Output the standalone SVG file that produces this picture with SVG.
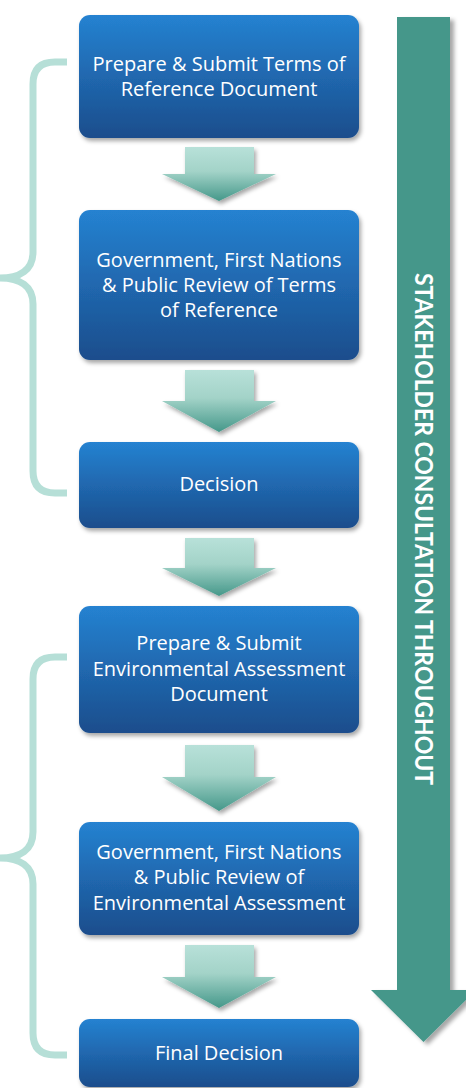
<svg xmlns="http://www.w3.org/2000/svg" width="466" height="1088" viewBox="0 0 466 1088">
<defs>
<linearGradient id="boxGrad" x1="0" y1="0" x2="0" y2="1">
<stop offset="0" stop-color="#2582D1"/>
<stop offset="1" stop-color="#1B4D8C"/>
</linearGradient>
<linearGradient id="arrGrad" x1="0" y1="0" x2="0" y2="1">
<stop offset="0" stop-color="#B8E1D9"/>
<stop offset="0.45" stop-color="#A3D3C8"/>
<stop offset="1" stop-color="#45988A"/>
</linearGradient>
<filter id="shadow" x="-10%" y="-10%" width="130%" height="130%">
<feDropShadow dx="2" dy="3" stdDeviation="2" flood-color="#000" flood-opacity="0.35"/>
</filter>
<filter id="shadowBig" x="-20%" y="-5%" width="150%" height="110%">
<feDropShadow dx="4" dy="3" stdDeviation="2" flood-color="#000" flood-opacity="0.35"/>
</filter>
</defs>
<style>
.box{fill:url(#boxGrad);filter:url(#shadow)}
.lbl{fill:#FFFFFF;font-family:"Open Sans","Noto Sans","Liberation Sans",sans-serif;font-weight:400;font-size:20px;text-anchor:middle}
.arr{fill:url(#arrGrad);filter:url(#shadow)}
.brace{fill:none;stroke:#B6DFD7;stroke-width:7}
.big{fill:#45978A;filter:url(#shadowBig)}
.vt{fill:#FFFFFF;font-family:Lato,"Open Sans","Liberation Sans",sans-serif;font-weight:bold;font-size:24px;text-anchor:middle}
</style>
<rect width="466" height="1088" fill="#FFFFFF"/>

<g id="braces">
<path class="brace" d="M67,62 H55 Q33,62 33,84 V252 C33,270 20,278 0,278 C20,278 33,286 33,304 V471 Q33,493 55,493 H67"/>
<path class="brace" d="M67,657 H55 Q33,657 33,679 V832 C33,850 20,858 0,858 C20,858 33,866 33,884 V1033 Q33,1055 55,1055 H67"/>
</g>

<g id="stakeholder-arrow">
<polygon class="big" points="397,17 450,17 450,990 476,990 423.5,1042 371,990 397,990"/>
<text class="vt" transform="translate(415,529) rotate(90)" x="0" y="0" textLength="512" lengthAdjust="spacingAndGlyphs">STAKEHOLDER CONSULTATION THROUGHOUT</text>
</g>

<g id="connectors">
<polygon class="arr" points="185,147 254,147 254,174 276,174 219,201 162,174 185,174"/>
<polygon class="arr" points="185,370 254,370 254,401 276,401 219,432 162,401 185,401"/>
<polygon class="arr" points="185,538 254,538 254,568 276,568 219,596 162,568 185,568"/>
<polygon class="arr" points="185,745 254,745 254,777 276,777 219,811 162,777 185,777"/>
<polygon class="arr" points="185,945 254,945 254,977 276,977 219,1008 162,977 185,977"/>
</g>

<g id="node1">
<rect class="box" x="79" y="15" width="280" height="123" rx="11"/>
<text class="lbl" x="219" y="71">Prepare &amp; Submit Terms of</text>
<text class="lbl" x="219" y="96">Reference Document</text>
</g>
<g id="node2">
<rect class="box" x="79" y="210" width="280" height="150" rx="11"/>
<text class="lbl" x="219" y="267">Government, First Nations</text>
<text class="lbl" x="219" y="292">&amp; Public Review of Terms</text>
<text class="lbl" x="219" y="317">of Reference</text>
</g>
<g id="node3">
<rect class="box" x="79" y="442" width="280" height="86" rx="11"/>
<text class="lbl" x="219" y="491">Decision</text>
</g>
<g id="node4">
<rect class="box" x="79" y="606" width="280" height="127" rx="11"/>
<text class="lbl" x="219" y="650">Prepare &amp; Submit</text>
<text class="lbl" x="219" y="676">Environmental Assessment</text>
<text class="lbl" x="219" y="701">Document</text>
</g>
<g id="node5">
<rect class="box" x="79" y="822" width="280" height="113" rx="11"/>
<text class="lbl" x="219" y="859">Government, First Nations</text>
<text class="lbl" x="219" y="884">&amp; Public Review of</text>
<text class="lbl" x="219" y="910">Environmental Assessment</text>
</g>
<g id="node6">
<rect class="box" x="79" y="1019" width="280" height="68" rx="11"/>
<text class="lbl" x="219" y="1060">Final Decision</text>
</g>
</svg>
